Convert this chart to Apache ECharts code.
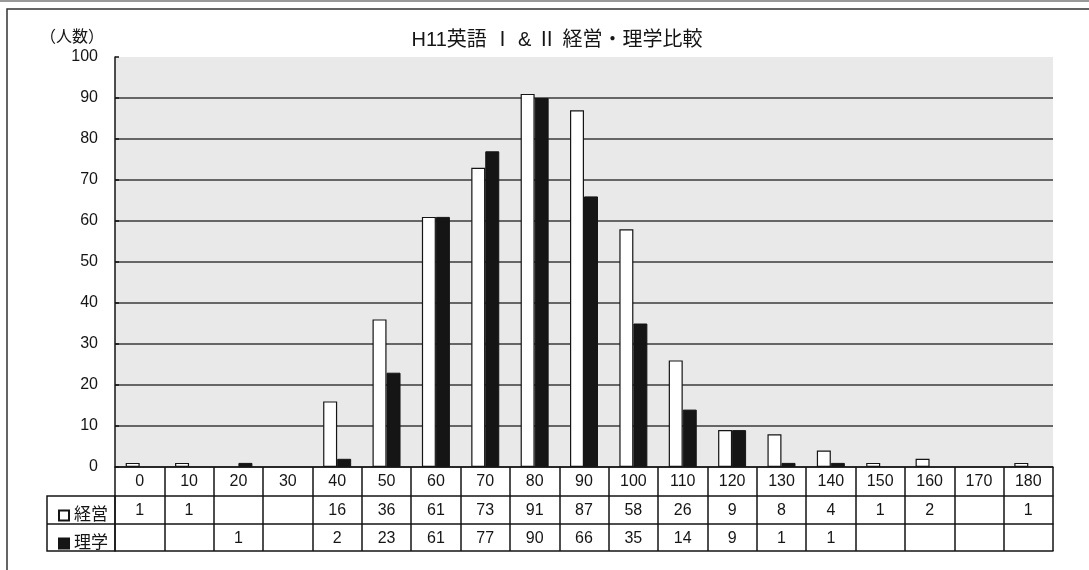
<!DOCTYPE html>
<html>
<head>
<meta charset="utf-8">
<script src="https://cdn.jsdelivr.net/npm/echarts@6/dist/echarts.min.js"></script>
<style>
html,body{margin:0;padding:0;background:#fff;}
#chart{width:1089px;height:570px;}
</style>
</head>
<body>
<div id="chart"></div>
<script>
const categories = ['0','10','20','30','40','50','60','70','80','90','100','110','120','130','140','150','160','170','180'];
const keiei = [1,1,null,null,16,36,61,73,91,87,58,26,9,8,4,1,2,null,1];
const rigaku = [null,null,1,null,2,23,61,77,90,66,35,14,9,1,1,null,null,null,null];
const yTicks = [0,10,20,30,40,50,60,70,80,90,100];
const seriesNames = ['経営','理学'];
const titleText = 'H11英語 Ⅰ & Ⅱ 経営・理学比較';
const yName = '（人数）';

const FONT = '"Liberation Sans", "Noto Sans CJK JP", sans-serif';
const INK = '#151515';
const G = {left:115, right:36, top:57, bottom:103};
const ROW = [29, 57, 84];

const chart = echarts.init(document.getElementById('chart'), null, {renderer:'canvas'});
const fmtRow = arr => (v, i) => (arr[i] == null ? '' : String(arr[i]));
const rowAxis = (offset, arr) => ({
  type:'category', data:categories, position:'bottom', offset:offset,
  axisLine:{show:true, lineStyle:{color:INK, width:1.5}},
  axisTick:{show:false},
  axisLabel:{show:!!arr, interval:0, margin:7, fontSize:16, color:INK, fontFamily:FONT,
             formatter: arr ? fmtRow(arr) : undefined}
});

const gridColors = yTicks.map((t,i) => i === yTicks.length-1 ? 'rgba(0,0,0,0)' : '#3a3a3a');

chart.setOption({
  backgroundColor:'#fff',
  animation:false,
  title:{text:titleText, left:552, top:25, textAlign:'center',
         textStyle:{fontSize:20, fontWeight:'normal', color:INK, fontFamily:FONT}},
  grid:{left:G.left, right:G.right, top:G.top, bottom:G.bottom, show:true,
        backgroundColor:'#e9e9e9', borderWidth:0},
  legend:{orient:'vertical', left:53, top:502, itemGap:11, itemWidth:10, itemHeight:10,
          icon:'rect', data:seriesNames,
          textStyle:{fontSize:17, color:INK, fontFamily:FONT, padding:[0,0,0,0]}},
  xAxis:[
    {type:'category', data:categories, position:'bottom',
     axisLine:{show:true, lineStyle:{color:INK, width:1.5}},
     axisTick:{show:true, length:ROW[2], alignWithLabel:false, lineStyle:{color:INK, width:1.5}},
     axisLabel:{interval:0, margin:7, fontSize:16, color:INK, fontFamily:FONT}},
    rowAxis(ROW[0], keiei),
    rowAxis(ROW[1], rigaku),
    rowAxis(ROW[2], null)
  ],
  yAxis:{type:'value', min:0, max:100, interval:10,
         name:yName, nameLocation:'end', nameGap:11,
         nameTextStyle:{fontSize:16, color:INK, fontFamily:FONT, align:'right', padding:[0,11,0,0]},
         axisLine:{show:true, lineStyle:{color:INK, width:1.5}},
         axisTick:{show:true, inside:true, length:4, lineStyle:{color:INK, width:1.5}},
         axisLabel:{margin:17, fontSize:16, color:INK, fontFamily:FONT},
         splitLine:{show:true, lineStyle:{color:gridColors, width:1.5}}},
  series:[
    {name:seriesNames[0], type:'bar', data:keiei, barWidth:14, barGap:'0%',
     itemStyle:{color:'#ffffff', borderColor:INK, borderWidth:1.2}},
    {name:seriesNames[1], type:'bar', data:rigaku, barWidth:14,
     itemStyle:{color:INK, borderColor:INK, borderWidth:1}}
  ],
  graphic:[
    {type:'line', shape:{x1:0, y1:1, x2:1089, y2:1}, style:{stroke:'#777', lineWidth:1.5}, silent:true},
    {type:'polyline', shape:{points:[[7,575],[7,9],[1095,9]]}, style:{stroke:'#333', lineWidth:1.5, fill:null}, silent:true},
    {type:'rect', shape:{x:47, y:570-G.bottom+ROW[0], width:G.left-47, height:ROW[2]-ROW[0]},
     style:{stroke:INK, lineWidth:1.5, fill:null}, silent:true},
    {type:'line', shape:{x1:47, y1:570-G.bottom+ROW[1], x2:G.left, y2:570-G.bottom+ROW[1]},
     style:{stroke:INK, lineWidth:1.5}, silent:true}
  ]
});
</script>
</body>
</html>
